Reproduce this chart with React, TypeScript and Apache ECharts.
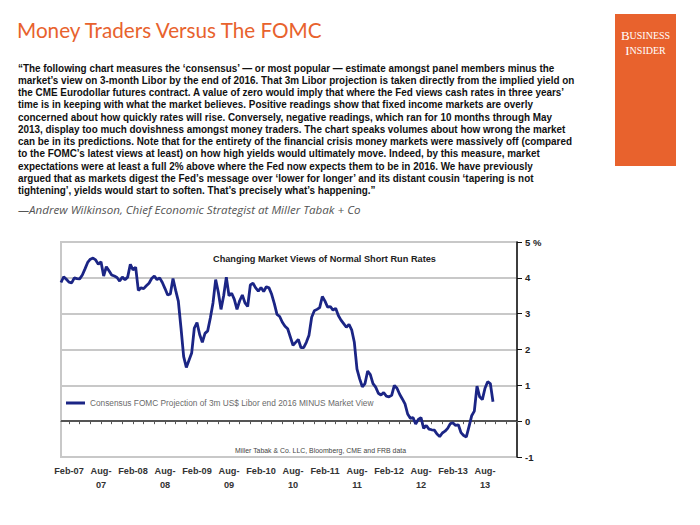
import React, { useEffect, useRef } from 'react';
import * as echarts from 'echarts';

const MONTHS = ['Jan', 'Feb', 'Mar', 'Apr', 'May', 'Jun', 'Jul', 'Aug', 'Sep', 'Oct', 'Nov', 'Dec'];

// Semi-monthly categories: second half of Dec-06 through first half of Feb-14
const categories: string[] = [];
for (let k = 0; k < 172; k++) {
  const t = k + 1;
  const offset = Math.floor(t / 2);
  const half = t % 2 === 0 ? 1 : 2;
  const mi = (11 + offset) % 12;
  const yr = 2006 + Math.floor((11 + offset) / 12);
  categories.push(`${MONTHS[mi]}-${String(yr % 100).padStart(2, '0')}/${half}`);
}

const tickLabels = [
  'Feb-07', 'Aug-07', 'Feb-08', 'Aug-08', 'Feb-09', 'Aug-09', 'Feb-10',
  'Aug-10', 'Feb-11', 'Aug-11', 'Feb-12', 'Aug-12', 'Feb-13', 'Aug-13',
];

const yTicks = { min: -1, max: 5, interval: 1 };

const seriesName = 'Consensus FOMC Projection of 3m US$ Libor end 2016 MINUS Market View';

const spreadValues = [
  3.87, 4.03, 3.96, 3.88, 3.86, 4.0, 3.98, 3.97, 4.08, 4.25,
  4.43, 4.52, 4.55, 4.5, 4.38, 4.45, 4.05, 4.31, 4.2, 4.08,
  4.05, 4.01, 3.91, 4.02, 3.95, 4.02, 4.38, 4.22, 4.3, 3.65,
  3.72, 3.7, 3.78, 3.85, 3.98, 4.05, 3.95, 4.0, 3.87, 3.7,
  3.52, 3.55, 3.98, 3.65, 3.35, 2.6, 1.8, 1.5, 1.7, 1.9,
  2.6, 2.75, 2.42, 2.2, 2.45, 2.52, 2.88, 3.3, 3.95, 3.6,
  3.12, 3.5, 4.02, 3.5, 3.57, 3.4, 3.12, 3.36, 3.52, 3.3,
  3.2, 3.8, 3.85, 3.72, 3.63, 3.73, 3.62, 3.75, 3.72, 3.54,
  3.28, 2.98, 2.92, 2.76, 2.65, 2.58, 2.35, 2.12, 2.2, 2.28,
  2.05, 2.05, 2.2, 2.4, 2.9, 3.08, 3.12, 3.17, 3.48, 3.35,
  3.18, 3.2, 3.1, 3.15, 2.95, 2.82, 2.72, 2.62, 2.7, 2.55,
  2.2, 1.45, 1.18, 0.96, 1.05, 1.4, 1.3, 1.05, 0.95, 0.78,
  0.73, 0.8, 0.7, 0.68, 0.72, 1.0, 0.92, 0.75, 0.62, 0.48,
  0.2, 0.08, 0.1, -0.08, 0.05, 0.1, -0.2, -0.12, -0.22, -0.24,
  -0.25, -0.36, -0.43, -0.33, -0.28, -0.2, -0.07, -0.05, -0.12, -0.1,
  -0.32, -0.4, -0.44, -0.15, 0.15, 0.28, 0.98, 0.68, 0.6, 0.92,
  1.1, 1.05, 0.54,
];

const paragraphLines = [
  '\u201CThe following chart measures the \u2018consensus\u2019 \u2014 or most popular \u2014 estimate amongst panel members minus the',
  'market\u2019s view on 3-month Libor by the end of 2016. That 3m Libor projection is taken directly from the implied yield on',
  'the CME Eurodollar futures contract. A value of zero would imply that where the Fed views cash rates in three years\u2019',
  'time is in keeping with what the market believes. Positive readings show that fixed income markets are overly',
  'concerned about how quickly rates will rise. Conversely, negative readings, which ran for 10 months through May',
  '2013, display too much dovishness amongst money traders. The chart speaks volumes about how wrong the market',
  'can be in its predictions. Note that for the entirety of the financial crisis money markets were massively off (compared',
  'to the FOMC\u2019s latest views at least) on how high yields would ultimately move. Indeed, by this measure, market',
  'expectations were at least a full 2% above where the Fed now expects them to be in 2016. We have previously',
  'argued that as markets digest the Fed\u2019s message over \u2018lower for longer\u2019 and its distant cousin \u2018tapering is not',
  'tightening\u2019, yields would start to soften. That\u2019s precisely what\u2019s happening.\u201D',
];

const attribution = '\u2014Andrew Wilkinson, Chief Economic Strategist at Miller Tabak + Co';
const sourceNote = 'Miller Tabak & Co. LLC, Bloomberg, CME and FRB data';

const ORANGE = '#E8622D';
const NAVY = '#1b2585';
const CHART_FONT = '"Liberation Sans", Arial, sans-serif';

export default function App() {
  const ref = useRef<HTMLDivElement>(null);

  useEffect(() => {
    if (!ref.current) return;
    const chart = echarts.init(ref.current, null, { renderer: 'svg' });

    const paraGraphics = paragraphLines.map((line, i) => ({
      type: 'text',
      x: 18,
      y: 68 + i * 12.25,
      scaleX: 0.9,
      style: {
        text: line,
        font: `bold 11px ${CHART_FONT}`,
        fill: '#111',
        textVerticalAlign: 'middle',
      },
    }));

    const option: any = {
      animation: false,
      backgroundColor: '#ffffff',
      title: [
        {
          text: 'Money Traders Versus The FOMC',
          left: 17,
          top: 19,
          padding: 0,
          textStyle: { fontFamily: 'Lato, "Open Sans", sans-serif', fontWeight: 'normal', fontSize: 20.7, color: ORANGE },
        },
        {
          text: 'Changing Market Views of Normal Short Run Rates',
          left: 213,
          top: 254,
          padding: 0,
          textStyle: { fontFamily: CHART_FONT, fontWeight: 'bold', fontSize: 9.2, color: '#222' },
        },
      ],
      legend: {
        data: [seriesName],
        left: 66,
        top: 399,
        padding: 0,
        icon: 'rect',
        itemWidth: 19,
        itemHeight: 3,
        selectedMode: false,
        textStyle: { fontFamily: CHART_FONT, fontSize: 8.3, color: '#6a6a6a' },
      },
      grid: { left: 61, right: 183, top: 242, bottom: 68, show: true, borderColor: '#c8c8c8', borderWidth: 2, backgroundColor: 'transparent' },
      xAxis: [
        {
          type: 'category',
          data: categories,
          boundaryGap: false,
          position: 'bottom',
          axisLine: { onZero: true, lineStyle: { color: '#555', width: 1.2 } },
          axisTick: { show: true, length: 3, lineStyle: { color: '#555' }, interval: (idx: number) => idx % 4 === 3 },
          axisLabel: { show: false },
          splitLine: { show: false },
        },
        {
          type: 'category',
          data: categories,
          boundaryGap: false,
          position: 'bottom',
          axisLine: { show: false, onZero: false },
          axisTick: { show: false },
          axisLabel: {
            show: true,
            margin: 7,
            interval: (_idx: number, val: string) => val.endsWith('/1') && tickLabels.includes(val.slice(0, -2)),
            formatter: (val: string) => {
              const s = val.slice(0, -2);
              return s.startsWith('Aug') ? s.replace('-', '-\n') : s;
            },
            fontFamily: CHART_FONT,
            fontWeight: 'bold',
            fontSize: 9.2,
            lineHeight: 14,
            color: '#333',
          },
          splitLine: { show: false },
        },
      ],
      yAxis: {
        type: 'value',
        position: 'right',
        min: yTicks.min,
        max: yTicks.max,
        interval: yTicks.interval,
        axisLine: { show: true, lineStyle: { color: '#111', width: 1.5 } },
        axisTick: { show: true, length: 5, lineStyle: { color: '#111' } },
        axisLabel: {
          margin: 8,
          formatter: (v: number) => (v === 5 ? '5 %' : String(v)),
          fontFamily: CHART_FONT,
          fontWeight: 'bold',
          fontSize: 9.5,
          color: '#222',
        },
        splitLine: {
          show: true,
          lineStyle: { color: ['#c8c8c8', '#555', '#c8c8c8', '#c8c8c8', '#c8c8c8', '#c8c8c8', '#c8c8c8'], width: 2 },
        },
      },
      series: [
        {
          name: seriesName,
          type: 'line',
          xAxisIndex: 0,
          data: spreadValues,
          showSymbol: false,
          symbol: 'none',
          color: NAVY,
          lineStyle: { color: NAVY, width: 2.8 },
          z: 5,
        },
      ],
      graphic: [
        {
          type: 'rect',
          shape: { x: 615, y: 14, width: 61, height: 152 },
          style: { fill: ORANGE },
        },
        {
          type: 'text',
          x: 645.5,
          y: 35,
          style: {
            text: '{b|B}{s|USINESS}',
            textAlign: 'center',
            textVerticalAlign: 'middle',
            rich: {
              b: { fontFamily: '"Liberation Serif", serif', fontSize: 13, fill: '#fff', color: '#fff' },
              s: { fontFamily: '"Liberation Serif", serif', fontSize: 10, fill: '#fff', color: '#fff' },
            },
          },
        },
        {
          type: 'text',
          x: 645.5,
          y: 50,
          style: {
            text: '{b|I}{s|NSIDER}',
            textAlign: 'center',
            textVerticalAlign: 'middle',
            rich: {
              b: { fontFamily: '"Liberation Serif", serif', fontSize: 13, fill: '#fff', color: '#fff' },
              s: { fontFamily: '"Liberation Serif", serif', fontSize: 10, fill: '#fff', color: '#fff' },
            },
          },
        },
        ...paraGraphics,
        {
          type: 'text',
          x: 18,
          y: 209,
          style: {
            text: attribution,
            font: `italic 11.6px "Open Sans", sans-serif`,
            fill: '#555',
            textVerticalAlign: 'middle',
          },
        },
        {
          type: 'text',
          x: 406,
          y: 450,
          style: {
            text: sourceNote,
            font: `6.9px ${CHART_FONT}`,
            fill: '#444',
            textAlign: 'right',
            textVerticalAlign: 'middle',
          },
        },
      ],
    };

    chart.setOption(option);
    return () => chart.dispose();
  }, []);

  return (
    <div
      ref={ref}
      style={{ position: 'fixed', left: 0, top: 0, width: 700, height: 525, background: '#fff' }}
    />
  );
}
